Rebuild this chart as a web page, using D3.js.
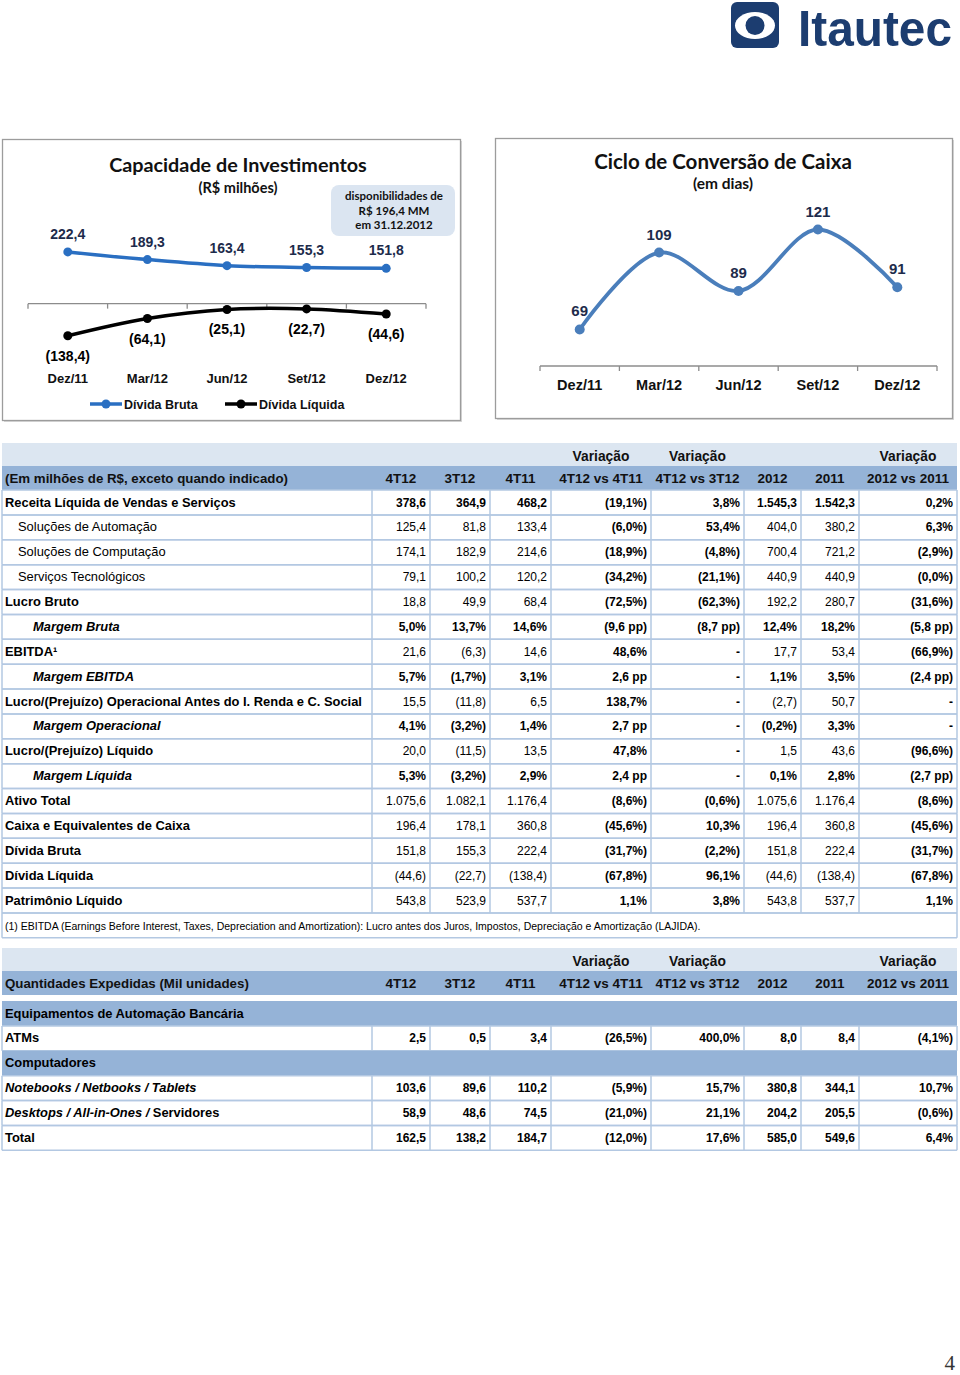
<!DOCTYPE html>
<html><head><meta charset="utf-8">
<script src="https://cdn.jsdelivr.net/npm/d3@7"></script>
<style>body{margin:0;background:#fff} svg{display:block}</style>
</head><body>
<svg id="page" width="960" height="1375"></svg>
<script>
// ---------------- DATA ----------------
const periods = ["Dez/11", "Mar/12", "Jun/12", "Set/12", "Dez/12"];
const grossDebt = [222.4, 189.3, 163.4, 155.3, 151.8];
const netDebt = [-138.4, -64.1, -25.1, -22.7, -44.6];
const cashCycleDays = [69, 109, 89, 121, 91];
const debtSeriesNames = ["Dívida Bruta", "Dívida Líquida"];
const calloutLines = ["disponibilidades de", "R$ 196,4 MM", "em 31.12.2012"];

const tableColumns = ["4T12", "3T12", "4T11", "4T12 vs 4T11", "4T12 vs 3T12", "2012", "2011", "2012 vs 2011"];
const tableTopHeader = ["", "", "", "Variação", "Variação", "", "", "Variação"];

const finLabels = [
  "Receita Líquida de Vendas e Serviços",
  "Soluções de Automação",
  "Soluções de Computação",
  "Serviços Tecnológicos",
  "Lucro Bruto",
  "Margem Bruta",
  "EBITDA¹",
  "Margem EBITDA",
  "Lucro/(Prejuízo) Operacional Antes do I. Renda e C. Social",
  "Margem Operacional",
  "Lucro/(Prejuízo) Líquido",
  "Margem Líquida",
  "Ativo Total",
  "Caixa e Equivalentes de Caixa",
  "Dívida Bruta",
  "Dívida Líquida",
  "Patrimônio Líquido"
];
const finValues = [
  ["378,6", "364,9", "468,2", "(19,1%)", "3,8%", "1.545,3", "1.542,3", "0,2%"],
  ["125,4", "81,8", "133,4", "(6,0%)", "53,4%", "404,0", "380,2", "6,3%"],
  ["174,1", "182,9", "214,6", "(18,9%)", "(4,8%)", "700,4", "721,2", "(2,9%)"],
  ["79,1", "100,2", "120,2", "(34,2%)", "(21,1%)", "440,9", "440,9", "(0,0%)"],
  ["18,8", "49,9", "68,4", "(72,5%)", "(62,3%)", "192,2", "280,7", "(31,6%)"],
  ["5,0%", "13,7%", "14,6%", "(9,6 pp)", "(8,7 pp)", "12,4%", "18,2%", "(5,8 pp)"],
  ["21,6", "(6,3)", "14,6", "48,6%", "-", "17,7", "53,4", "(66,9%)"],
  ["5,7%", "(1,7%)", "3,1%", "2,6 pp", "-", "1,1%", "3,5%", "(2,4 pp)"],
  ["15,5", "(11,8)", "6,5", "138,7%", "-", "(2,7)", "50,7", "-"],
  ["4,1%", "(3,2%)", "1,4%", "2,7 pp", "-", "(0,2%)", "3,3%", "-"],
  ["20,0", "(11,5)", "13,5", "47,8%", "-", "1,5", "43,6", "(96,6%)"],
  ["5,3%", "(3,2%)", "2,9%", "2,4 pp", "-", "0,1%", "2,8%", "(2,7 pp)"],
  ["1.075,6", "1.082,1", "1.176,4", "(8,6%)", "(0,6%)", "1.075,6", "1.176,4", "(8,6%)"],
  ["196,4", "178,1", "360,8", "(45,6%)", "10,3%", "196,4", "360,8", "(45,6%)"],
  ["151,8", "155,3", "222,4", "(31,7%)", "(2,2%)", "151,8", "222,4", "(31,7%)"],
  ["(44,6)", "(22,7)", "(138,4)", "(67,8%)", "96,1%", "(44,6)", "(138,4)", "(67,8%)"],
  ["543,8", "523,9", "537,7", "1,1%", "3,8%", "543,8", "537,7", "1,1%"]
];
const finHeaderLabel = "(Em milhões de R$, exceto quando indicado)";
const finFootnote = "(1) EBITDA (Earnings Before Interest, Taxes, Depreciation and Amortization): Lucro antes dos Juros, Impostos, Depreciação e Amortização (LAJIDA).";

const shipHeaderLabel = "Quantidades Expedidas (Mil unidades)";
const shipLabels = [
  "Equipamentos de Automação Bancária",
  "ATMs",
  "Computadores",
  "Notebooks / Netbooks / Tablets",
  "Desktops / All-in-Ones / Servidores",
  "Total"
];
const shipValues = [
  null,
  ["2,5", "0,5", "3,4", "(26,5%)", "400,0%", "8,0", "8,4", "(4,1%)"],
  null,
  ["103,6", "89,6", "110,2", "(5,9%)", "15,7%", "380,8", "344,1", "10,7%"],
  ["58,9", "48,6", "74,5", "(21,0%)", "21,1%", "204,2", "205,5", "(0,6%)"],
  ["162,5", "138,2", "184,7", "(12,0%)", "17,6%", "585,0", "549,6", "6,4%"]
];
const pageNumber = "4";

// ---------------- HELPERS ----------------
const loc = d3.formatLocale({decimal: ",", thousands: ".", grouping: [3], currency: ["R$ ", ""]});
const f1 = loc.format(",.1f");
const fmtDebt = v => v < 0 ? "(" + f1(-v) + ")" : f1(v);
const fmtDays = loc.format("d");

const SANS = "'Liberation Sans', Arial, sans-serif";
const TITLE = "Lato, 'Open Sans', sans-serif";
const NAVY = "#1d2b4b";

const svg = d3.select("#page");
svg.append("rect").attr("width", 960).attr("height", 1375).attr("fill", "#fff");

// ---------------- LOGO ----------------
const logo = svg.append("g");
logo.append("rect").attr("x", 731).attr("y", 2).attr("width", 48).attr("height", 46).attr("rx", 6).attr("fill", "#1c3d70");
logo.append("ellipse").attr("cx", 755).attr("cy", 25.5).attr("rx", 20).attr("ry", 13.5).attr("fill", "#fff");
logo.append("circle").attr("cx", 755).attr("cy", 25.5).attr("r", 9.5).attr("fill", "#1c3d70");
logo.append("text").attr("x", 798).attr("y", 46).attr("font-family", SANS).attr("font-weight", 700)
  .attr("font-size", 50).attr("fill", "#1c3d70").attr("textLength", 154).attr("lengthAdjust", "spacingAndGlyphs").text("Itautec");

// ---------------- PANELS ----------------
function panel(x, y, w, h) {
  svg.append("rect").attr("x", x + 1.5).attr("y", y + 1.5).attr("width", w).attr("height", h).attr("fill", "#d9d9d9");
  svg.append("rect").attr("x", x).attr("y", y).attr("width", w).attr("height", h).attr("fill", "#fff")
    .attr("stroke", "#9c9c9c").attr("stroke-width", 1.3);
}
panel(2.5, 139.5, 458, 281);
panel(495.5, 138.5, 457, 280);

// ---------------- LEFT CHART ----------------
{
  const g = svg.append("g");
  g.append("text").attr("x", 238).attr("y", 172).attr("text-anchor", "middle").attr("font-family", TITLE)
    .attr("font-weight", 700).attr("font-size", 19.8).attr("fill", "#111").text("Capacidade de Investimentos");
  g.append("text").attr("x", 238).attr("y", 193).attr("text-anchor", "middle").attr("font-family", TITLE)
    .attr("font-weight", 700).attr("font-size", 14.5).attr("fill", "#111").text("(R$ milhões)");
  g.append("rect").attr("x", 331).attr("y", 185).attr("width", 124).attr("height", 51).attr("rx", 8).attr("fill", "#dbe5f1");
  g.selectAll("text.callout").data(calloutLines).join("text").attr("class", "callout")
    .attr("x", 394).attr("y", (d, i) => 200 + i * 14.5).attr("text-anchor", "middle").attr("font-family", TITLE)
    .attr("font-weight", 700).attr("font-size", 11.5).attr("fill", "#111").text(d => d);

  const x = d3.scaleBand().domain(periods).range([28, 426]);
  const y = d3.scaleLinear().domain([-150, 250]).range([338.5, 245.5]);
  const cx = p => x(p) + x.bandwidth() / 2;

  const y0 = y(0);
  g.append("line").attr("x1", x.range()[0]).attr("x2", x.range()[1]).attr("y1", y0).attr("y2", y0)
    .attr("stroke", "#8c8c8c").attr("stroke-width", 1.3);
  const edges = periods.map(p => x(p)).concat([x.range()[1]]);
  g.selectAll("line.tick").data(edges).join("line").attr("class", "tick")
    .attr("x1", d => d).attr("x2", d => d).attr("y1", y0).attr("y2", y0 + 5).attr("stroke", "#8c8c8c").attr("stroke-width", 1.3);

  const gross = periods.map((p, i) => ({p, v: grossDebt[i]}));
  const net = periods.map((p, i) => ({p, v: netDebt[i]}));
  const line = d3.line().x(d => cx(d.p)).y(d => y(d.v)).curve(d3.curveCatmullRom.alpha(0.5));

  const series = [{data: gross, color: "#2a6fc2", label: "#1d2b4b", above: true},
                  {data: net, color: "#000", label: "#000", above: false}];
  series.forEach(s => {
    g.append("path").attr("d", line(s.data)).attr("fill", "none").attr("stroke", s.color).attr("stroke-width", 3.5);
    g.selectAll(null).data(s.data).join("circle").attr("cx", d => cx(d.p)).attr("cy", d => y(d.v)).attr("r", 4.5).attr("fill", s.color);
    g.selectAll(null).data(s.data).join("text").attr("x", d => cx(d.p))
      .attr("y", d => s.above ? y(d.v) - 13 : y(d.v) + 25).attr("text-anchor", "middle")
      .attr("font-family", SANS).attr("font-weight", 700).attr("font-size", 14).attr("fill", s.label).text(d => fmtDebt(d.v));
  });

  g.selectAll("text.cat").data(periods).join("text").attr("class", "cat").attr("x", cx).attr("y", 383)
    .attr("text-anchor", "middle").attr("font-family", SANS).attr("font-weight", 700).attr("font-size", 13).attr("fill", "#111").text(d => d);

  // legend
  const legend = [{name: debtSeriesNames[0], color: "#2a6fc2", x: 90}, {name: debtSeriesNames[1], color: "#000", x: 225}];
  legend.forEach(l => {
    g.append("line").attr("x1", l.x).attr("x2", l.x + 32).attr("y1", 404).attr("y2", 404).attr("stroke", l.color).attr("stroke-width", 3.5);
    g.append("circle").attr("cx", l.x + 16).attr("cy", 404).attr("r", 4.5).attr("fill", l.color);
    g.append("text").attr("x", l.x + 34).attr("y", 409).attr("font-family", SANS).attr("font-weight", 700)
      .attr("font-size", 12.5).attr("fill", "#111").text(l.name);
  });
}

// ---------------- RIGHT CHART ----------------
{
  const g = svg.append("g");
  g.append("text").attr("x", 723).attr("y", 169).attr("text-anchor", "middle").attr("font-family", TITLE)
    .attr("font-weight", 700).attr("font-size", 20.5).attr("fill", "#111").text("Ciclo de Conversão de Caixa");
  g.append("text").attr("x", 723).attr("y", 189).attr("text-anchor", "middle").attr("font-family", TITLE)
    .attr("font-weight", 700).attr("font-size", 15.5).attr("fill", "#111").text("(em dias)");

  const x = d3.scaleBand().domain(periods).range([540, 937]);
  const y = d3.scaleLinear().domain([50, 140]).range([366, 193]);
  const cx = p => x(p) + x.bandwidth() / 2;
  const yb = y(50);
  g.append("line").attr("x1", x.range()[0]).attr("x2", x.range()[1]).attr("y1", yb).attr("y2", yb)
    .attr("stroke", "#8c8c8c").attr("stroke-width", 1.3);
  const edges = periods.map(p => x(p)).concat([x.range()[1]]);
  g.selectAll("line.tick").data(edges).join("line").attr("class", "tick")
    .attr("x1", d => d).attr("x2", d => d).attr("y1", yb).attr("y2", yb + 5).attr("stroke", "#8c8c8c").attr("stroke-width", 1.3);

  const data = periods.map((p, i) => ({p, v: cashCycleDays[i]}));
  const line = d3.line().x(d => cx(d.p)).y(d => y(d.v)).curve(d3.curveCatmullRom.alpha(0.5));
  g.append("path").attr("d", line(data)).attr("fill", "none").attr("stroke", "#4a7ebb").attr("stroke-width", 3.8);
  g.selectAll("circle").data(data).join("circle").attr("cx", d => cx(d.p)).attr("cy", d => y(d.v)).attr("r", 5).attr("fill", "#4a7ebb");
  g.selectAll("text.val").data(data).join("text").attr("class", "val").attr("x", d => cx(d.p)).attr("y", d => y(d.v) - 13)
    .attr("text-anchor", "middle").attr("font-family", SANS).attr("font-weight", 700).attr("font-size", 15).attr("fill", NAVY)
    .text(d => fmtDays(d.v));
  g.selectAll("text.cat").data(periods).join("text").attr("class", "cat").attr("x", cx).attr("y", 390)
    .attr("text-anchor", "middle").attr("font-family", SANS).attr("font-weight", 700).attr("font-size", 14.5).attr("fill", "#111").text(d => d);
}

// ---------------- TABLES ----------------
const colEdges = [2, 372, 430, 490, 551, 651, 744, 801, 859, 957];
const LIGHT = "#dce6f1", DARK = "#95b3d7", GRID = "#b3c8e2";
const RH = 24.875;

function header(top, label) {
  svg.append("rect").attr("x", 2).attr("y", top).attr("width", 955).attr("height", 23).attr("fill", LIGHT);
  svg.append("rect").attr("x", 2).attr("y", top + 23).attr("width", 955).attr("height", 24).attr("fill", DARK);
  svg.append("text").attr("x", 5).attr("y", top + 40).attr("font-family", SANS).attr("font-weight", 700)
    .attr("font-size", 13.3).attr("fill", "#111").text(label);
  tableColumns.forEach((c, i) => {
    const mid = (colEdges[i + 1] + colEdges[i + 2]) / 2;
    svg.append("text").attr("x", mid).attr("y", top + 40).attr("text-anchor", "middle").attr("font-family", SANS)
      .attr("font-weight", 700).attr("font-size", 13.5).attr("fill", "#111").text(c);
    if (tableTopHeader[i]) svg.append("text").attr("x", mid).attr("y", top + 18).attr("text-anchor", "middle").attr("font-family", SANS)
      .attr("font-weight", 700).attr("font-size", 13.8).attr("fill", "#111").text(tableTopHeader[i]);
  });
}

function gridRow(top, withCols) {
  const g = svg.append("g");
  g.append("line").attr("x1", 2).attr("x2", 957).attr("y1", top).attr("y2", top).attr("stroke", GRID).attr("stroke-width", 1.5);
  g.append("line").attr("x1", 2).attr("x2", 957).attr("y1", top + RH).attr("y2", top + RH).attr("stroke", GRID).attr("stroke-width", 1.5);
  (withCols ? colEdges : [2, 957]).forEach(xe => g.append("line").attr("x1", xe).attr("x2", xe).attr("y1", top).attr("y2", top + RH)
    .attr("stroke", GRID).attr("stroke-width", 1.5));
}

// Table 1
header(443, finHeaderLabel);
{
  const top0 = 490;
  const subRows = new Set([1, 2, 3]);
  const marginRows = new Set([5, 7, 9, 11]);
  const varCols = new Set([3, 4, 7]);
  finLabels.forEach((lab, r) => {
    const top = top0 + r * RH;
    gridRow(top, true);
    const isSub = subRows.has(r), isMargin = marginRows.has(r);
    svg.append("text").attr("x", isSub ? 18 : isMargin ? 33 : 5).attr("y", top + 16.5).attr("font-family", SANS)
      .attr("font-weight", isSub ? 400 : 700).attr("font-style", isMargin ? "italic" : "normal")
      .attr("font-size", 12.9).attr("fill", "#000").text(lab);
    finValues[r].forEach((v, c) => {
      const bold = varCols.has(c) || r === 0 || isMargin;
      svg.append("text").attr("x", colEdges[c + 2] - 4).attr("y", top + 16.5).attr("text-anchor", "end")
        .attr("font-family", SANS).attr("font-weight", bold ? 700 : 400).attr("font-size", 12).attr("fill", "#000").text(v);
    });
  });
  const fTop = top0 + finLabels.length * RH;
  gridRow(fTop, false);
  svg.append("text").attr("x", 5).attr("y", fTop + 17).attr("font-family", SANS).attr("font-size", 10.5).attr("fill", "#000").text(finFootnote);
}

// Table 2
header(948, shipHeaderLabel);
{
  const top0 = 1001;
  const italicParts = {3: "Notebooks / Netbooks / Tablets", 4: "Desktops / All-in-Ones / "};
  shipLabels.forEach((lab, r) => {
    const top = top0 + r * RH;
    const vals = shipValues[r];
    if (!vals) {
      svg.append("rect").attr("x", 2).attr("y", top).attr("width", 955).attr("height", RH).attr("fill", DARK);
    } else {
      gridRow(top, true);
    }
    const t = svg.append("text").attr("x", 5).attr("y", top + 16.5).attr("font-family", SANS).attr("font-weight", 700)
      .attr("font-size", 12.9).attr("fill", "#000");
    const it = italicParts[r];
    if (it && lab.startsWith(it)) {
      t.append("tspan").attr("font-style", "italic").text(it);
      if (lab.length > it.length) t.append("tspan").text(lab.slice(it.length));
    } else t.text(lab);
    if (vals) vals.forEach((v, c) => {
      svg.append("text").attr("x", colEdges[c + 2] - 4).attr("y", top + 16.5).attr("text-anchor", "end")
        .attr("font-family", SANS).attr("font-weight", 700).attr("font-size", 12).attr("fill", "#000").text(v);
    });
  });
}

svg.append("text").attr("x", 955).attr("y", 1370).attr("text-anchor", "end").attr("font-family", "'Liberation Serif', serif")
  .attr("font-size", 21).attr("fill", "#333").text(pageNumber);
</script>
</body></html>
